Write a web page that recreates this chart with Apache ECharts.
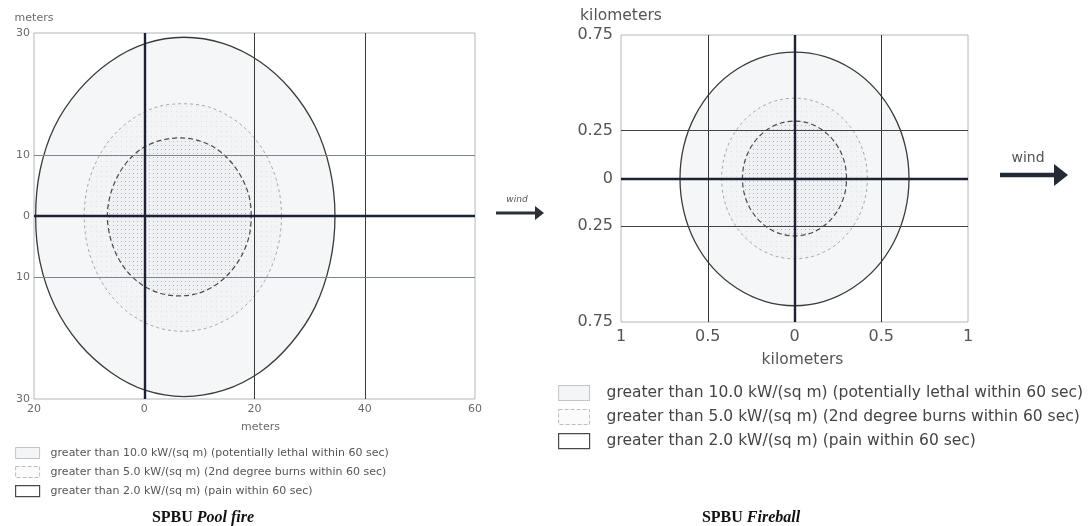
<!DOCTYPE html>
<html><head><meta charset="utf-8">
<script src="https://cdn.jsdelivr.net/npm/echarts@6/dist/echarts.min.js"></script>
<style>html,body{margin:0;padding:0;background:#fff}#c{width:1090px;height:526px}</style>
</head><body><div id="c"></div>
<script>
// ---------- data ----------
const levelNames = [
  'greater than 10.0 kW/(sq m) (potentially lethal within 60 sec)',
  'greater than 5.0 kW/(sq m) (2nd degree burns within 60 sec)',
  'greater than 2.0 kW/(sq m) (pain within 60 sec)'
];
// Pool fire threat zones (meters), [downwind x, crosswind y]
const poolInner = [[19.4,0],[19.0,3.3],[17.6,6.4],[15.5,9.1],[12.8,11.2],[9.7,12.4],[6.4,12.8],[3.0,12.4],[-0.2,11.2],[-2.9,9.1],[-4.9,6.4],[-6.2,3.3],[-6.7,0],[-6.2,-3.4],[-4.9,-6.6],[-2.9,-9.3],[-0.2,-11.4],[3.0,-12.7],[6.4,-13.1],[9.7,-12.7],[12.8,-11.4],[15.5,-9.3],[17.6,-6.6],[19.0,-3.4]];
const poolMid = [[24.9,0],[24.3,4.8],[22.5,9.3],[19.7,13.1],[16.0,16.0],[11.6,17.9],[7.0,18.4],[2.4,17.9],[-2.0,16.0],[-5.7,13.1],[-8.5,9.3],[-10.3,4.8],[-10.9,0],[-10.3,-4.9],[-8.5,-9.5],[-5.7,-13.4],[-2.0,-16.4],[2.4,-18.3],[7.0,-18.9],[11.6,-18.3],[16.0,-16.4],[19.7,-13.4],[22.5,-9.5],[24.3,-4.9]];
const poolOuter = [[34.6,0],[33.7,7.6],[31.0,14.7],[26.6,20.7],[21.0,25.3],[14.3,28.3],[7.2,29.3],[0.3,28.3],[-6.2,25.3],[-11.9,20.6],[-16.3,14.6],[-18.9,7.5],[-19.7,0],[-18.9,-7.6],[-16.2,-14.8],[-11.8,-20.9],[-6.1,-25.6],[0.3,-28.6],[7.2,-29.6],[14.3,-28.6],[21.0,-25.6],[26.6,-20.9],[31.0,-14.9],[33.7,-7.7]];
// Fireball threat zones (kilometers)
const fbInner = [[0.30,0],[0.29,0.078],[0.26,0.15],[0.212,0.212],[0.15,0.26],[0.078,0.29],[0,0.30],[-0.078,0.29],[-0.15,0.26],[-0.212,0.212],[-0.26,0.15],[-0.29,0.078],[-0.30,0],[-0.29,-0.078],[-0.26,-0.15],[-0.212,-0.212],[-0.15,-0.26],[-0.078,-0.29],[0,-0.30],[0.078,-0.29],[0.15,-0.26],[0.212,-0.212],[0.26,-0.15],[0.29,-0.078]];
const fbMid = [[0.42,0],[0.406,0.109],[0.364,0.21],[0.297,0.297],[0.21,0.364],[0.109,0.406],[0,0.42],[-0.109,0.406],[-0.21,0.364],[-0.297,0.297],[-0.364,0.21],[-0.406,0.109],[-0.42,0],[-0.406,-0.109],[-0.364,-0.21],[-0.297,-0.297],[-0.21,-0.364],[-0.109,-0.406],[0,-0.42],[0.109,-0.406],[0.21,-0.364],[0.297,-0.297],[0.364,-0.21],[0.406,-0.109]];
const fbOuter = [[0.66,0],[0.638,0.171],[0.572,0.33],[0.467,0.467],[0.33,0.572],[0.171,0.638],[0,0.66],[-0.171,0.638],[-0.33,0.572],[-0.467,0.467],[-0.572,0.33],[-0.638,0.171],[-0.66,0],[-0.638,-0.172],[-0.573,-0.332],[-0.468,-0.47],[-0.33,-0.575],[-0.171,-0.642],[0,-0.665],[0.171,-0.642],[0.33,-0.575],[0.468,-0.47],[0.573,-0.332],[0.638,-0.172]];
// axes / ticks
const poolXRange = [-20, 60], poolXStep = 20;
const poolYRange = [-30, 30], poolYStep = 10;
const poolYTicks = [-30, -10, 0, 10, 30];
const poolVLines = [20, 40], poolHLines = [10, -10];
const fbXRange = [-1, 1], fbXStep = 0.5;
const fbYRange = [-0.75, 0.75], fbYStep = 0.25;
const fbYTicks = [-0.75, -0.25, 0, 0.25, 0.75];
const fbVLines = [-0.5, 0.5], fbHLines = [0.25, -0.25];

// ---------- styles ----------
function dotPattern(w, h, bg, dot) {
  const c = document.createElement('canvas'); c.width = w; c.height = h;
  const g = c.getContext('2d'); g.fillStyle = bg; g.fillRect(0, 0, w, h);
  g.fillStyle = dot; g.fillRect(1, 1, 1, 1);
  return { image: c, repeat: 'repeat' };
}
const fillOuter = '#f5f6f8';
const fillMid = dotPattern(5, 5, '#f3f4f6', '#dde0e5');
const fillInner = dotPattern(4, 4, '#f0f1f4', '#b3b8c0');
const strokes = [
  { color: '#4a4a4a', width: 1.2, dash: [5, 3] },
  { color: '#a3a9b3', width: 1, dash: [3, 3] },
  { color: '#3a3a3a', width: 1.3, dash: null }
];

function contour(name, pts, idx, fill, st, z) {
  return {
    type: 'custom', name: name, xAxisIndex: idx, yAxisIndex: idx, z: z, silent: true,
    data: pts,
    renderItem: function (params, api) {
      if (params.dataIndex !== 0) return null;
      const p = pts.map(q => api.coord(q));
      return { type: 'polygon', shape: { points: p, smooth: 0.33 },
        style: { fill: fill, stroke: st.color, lineWidth: st.width, lineDash: st.dash } };
    }
  };
}
function gridLines(idx, vLines, hLines, thinV, thinH) {
  const d = [];
  vLines.forEach(v => d.push({ xAxis: v, lineStyle: thinV }));
  hLines.forEach(v => d.push({ yAxis: v, lineStyle: thinH }));
  d.push({ xAxis: 0, lineStyle: { color: '#1c2233', width: 2.4, type: 'solid' } });
  d.push({ yAxis: 0, lineStyle: { color: '#1c2233', width: 2.4, type: 'solid' } });
  return {
    type: 'line', xAxisIndex: idx, yAxisIndex: idx, data: [], z: 6, silent: true,
    markLine: { silent: true, symbol: ['none', 'none'], label: { show: false }, animation: false, data: d }
  };
}
const absFmt = v => String(Math.abs(v));
const legendIcons = [
  { color: '#f4f5f7', borderColor: '#8a8f96', borderWidth: 1, borderType: 'dotted' },
  { color: '#fbfbfc', borderColor: '#b9bec6', borderWidth: 1, borderType: 'dashed' },
  { color: '#ffffff', borderColor: '#4a4a4a', borderWidth: 1.2, borderType: 'solid' }
];
const leftFont = { color: '#6a6a6a', fontSize: 11, fontFamily: 'DejaVu Sans' };
const rightFont = { color: '#555', fontSize: 15.5, fontFamily: 'DejaVu Sans' };

const chart = echarts.init(document.getElementById('c'), null, { renderer: 'canvas' });
chart.setOption({
  animation: false,
  backgroundColor: '#ffffff',
  grid: [
    { left: 34, top: 33, width: 441, height: 366, show: true, borderColor: '#b4b6ba', borderWidth: 1, backgroundColor: 'transparent' },
    { left: 621, top: 35, width: 347, height: 287, show: true, borderColor: '#b4b6ba', borderWidth: 1, backgroundColor: 'transparent' }
  ],
  xAxis: [
    { type: 'value', gridIndex: 0, min: poolXRange[0], max: poolXRange[1], interval: poolXStep,
      axisLine: { show: false, onZero: false }, axisTick: { show: false }, splitLine: { show: false },
      axisLabel: Object.assign({ formatter: absFmt, margin: 5 }, leftFont),
      name: 'meters', nameLocation: 'middle', nameGap: 23, nameTextStyle: Object.assign({ padding: [0, 0, 0, 12] }, leftFont) },
    { type: 'value', gridIndex: 1, min: fbXRange[0], max: fbXRange[1], interval: fbXStep,
      axisLine: { show: false, onZero: false }, axisTick: { show: false }, splitLine: { show: false },
      axisLabel: Object.assign({ formatter: absFmt, margin: 7 }, rightFont, { fontSize: 16 }),
      name: 'kilometers', nameLocation: 'middle', nameGap: 30, nameTextStyle: Object.assign({ padding: [0, 0, 0, 16] }, rightFont) }
  ],
  yAxis: [
    { type: 'value', gridIndex: 0, min: poolYRange[0], max: poolYRange[1], interval: poolYStep,
      axisLine: { show: false, onZero: false }, axisTick: { show: false }, splitLine: { show: false },
      axisLabel: Object.assign({ customValues: poolYTicks, formatter: absFmt, margin: 4 }, leftFont),
      name: 'meters', nameLocation: 'end', nameGap: 9, nameTextStyle: leftFont },
    { type: 'value', gridIndex: 1, min: fbYRange[0], max: fbYRange[1], interval: fbYStep,
      axisLine: { show: false, onZero: false }, axisTick: { show: false }, splitLine: { show: false },
      axisLabel: Object.assign({ customValues: fbYTicks, formatter: absFmt, margin: 8 }, rightFont, { fontSize: 16 }),
      name: 'kilometers', nameLocation: 'end', nameGap: 11, nameTextStyle: rightFont }
  ],
  legend: [
    { left: 10, top: 442, orient: 'vertical', itemWidth: 24, itemHeight: 11, itemGap: 7, selectedMode: false,
      textStyle: { fontSize: 11, color: '#555', fontFamily: 'DejaVu Sans', padding: [0, 0, 0, 6] },
      data: levelNames.map((n, i) => ({ name: n, icon: 'rect', itemStyle: legendIcons[i] })) },
    { left: 553, top: 380, orient: 'vertical', itemWidth: 31, itemHeight: 15, itemGap: 8, selectedMode: false,
      textStyle: { fontSize: 15.5, color: '#444', fontFamily: 'DejaVu Sans', padding: [0, 0, 0, 12] },
      data: levelNames.map((n, i) => ({ name: n, icon: 'rect', itemStyle: legendIcons[i] })) }
  ],
  series: [
    contour(levelNames[2], poolOuter, 0, fillOuter, strokes[2], 2),
    contour(levelNames[1], poolMid, 0, fillMid, strokes[1], 3),
    contour(levelNames[0], poolInner, 0, fillInner, strokes[0], 4),
    gridLines(0, poolVLines, poolHLines,
      { color: '#3a3a3a', width: 1, type: 'solid' }, { color: '#7d8592', width: 1, type: 'solid' }),
    contour(levelNames[2], fbOuter, 1, fillOuter, strokes[2], 2),
    contour(levelNames[1], fbMid, 1, fillMid, strokes[1], 3),
    contour(levelNames[0], fbInner, 1, fillInner, strokes[0], 4),
    gridLines(1, fbVLines, fbHLines,
      { color: '#333', width: 1, type: 'solid' }, { color: '#444', width: 1, type: 'solid' })
  ],
  graphic: [
    { type: 'text', x: 203, y: 518, style: { text: '{a|SPBU }{b|Pool fire}', align: 'center', verticalAlign: 'middle',
      rich: { a: { fontFamily: 'Liberation Serif', fontWeight: 'bold', fontSize: 16, fill: '#111' },
              b: { fontFamily: 'Liberation Serif', fontWeight: 'bold', fontStyle: 'italic', fontSize: 16, fill: '#111' } } } },
    { type: 'text', x: 751, y: 518, style: { text: '{a|SPBU }{b|Fireball}', align: 'center', verticalAlign: 'middle',
      rich: { a: { fontFamily: 'Liberation Serif', fontWeight: 'bold', fontSize: 16, fill: '#111' },
              b: { fontFamily: 'Liberation Serif', fontWeight: 'bold', fontStyle: 'italic', fontSize: 16, fill: '#111' } } } },
    { type: 'text', x: 517, y: 200, style: { text: 'wind', align: 'center', verticalAlign: 'middle', fontFamily: 'DejaVu Sans', fontStyle: 'italic', fontSize: 9, fill: '#555' } },
    { type: 'line', shape: { x1: 496, y1: 213, x2: 537, y2: 213 }, style: { stroke: '#2a2f38', lineWidth: 3 } },
    { type: 'polygon', shape: { points: [[535, 206], [544, 213], [535, 220]] }, style: { fill: '#2a2f38' } },
    { type: 'text', x: 1028, y: 158, style: { text: 'wind', align: 'center', verticalAlign: 'middle', fontFamily: 'DejaVu Sans', fontSize: 14, fill: '#555' } },
    { type: 'line', shape: { x1: 1000, y1: 175, x2: 1058, y2: 175 }, style: { stroke: '#232a36', lineWidth: 4.5 } },
    { type: 'polygon', shape: { points: [[1054, 164], [1068, 175], [1054, 186]] }, style: { fill: '#232a36' } }
  ]
});
</script></body></html>
